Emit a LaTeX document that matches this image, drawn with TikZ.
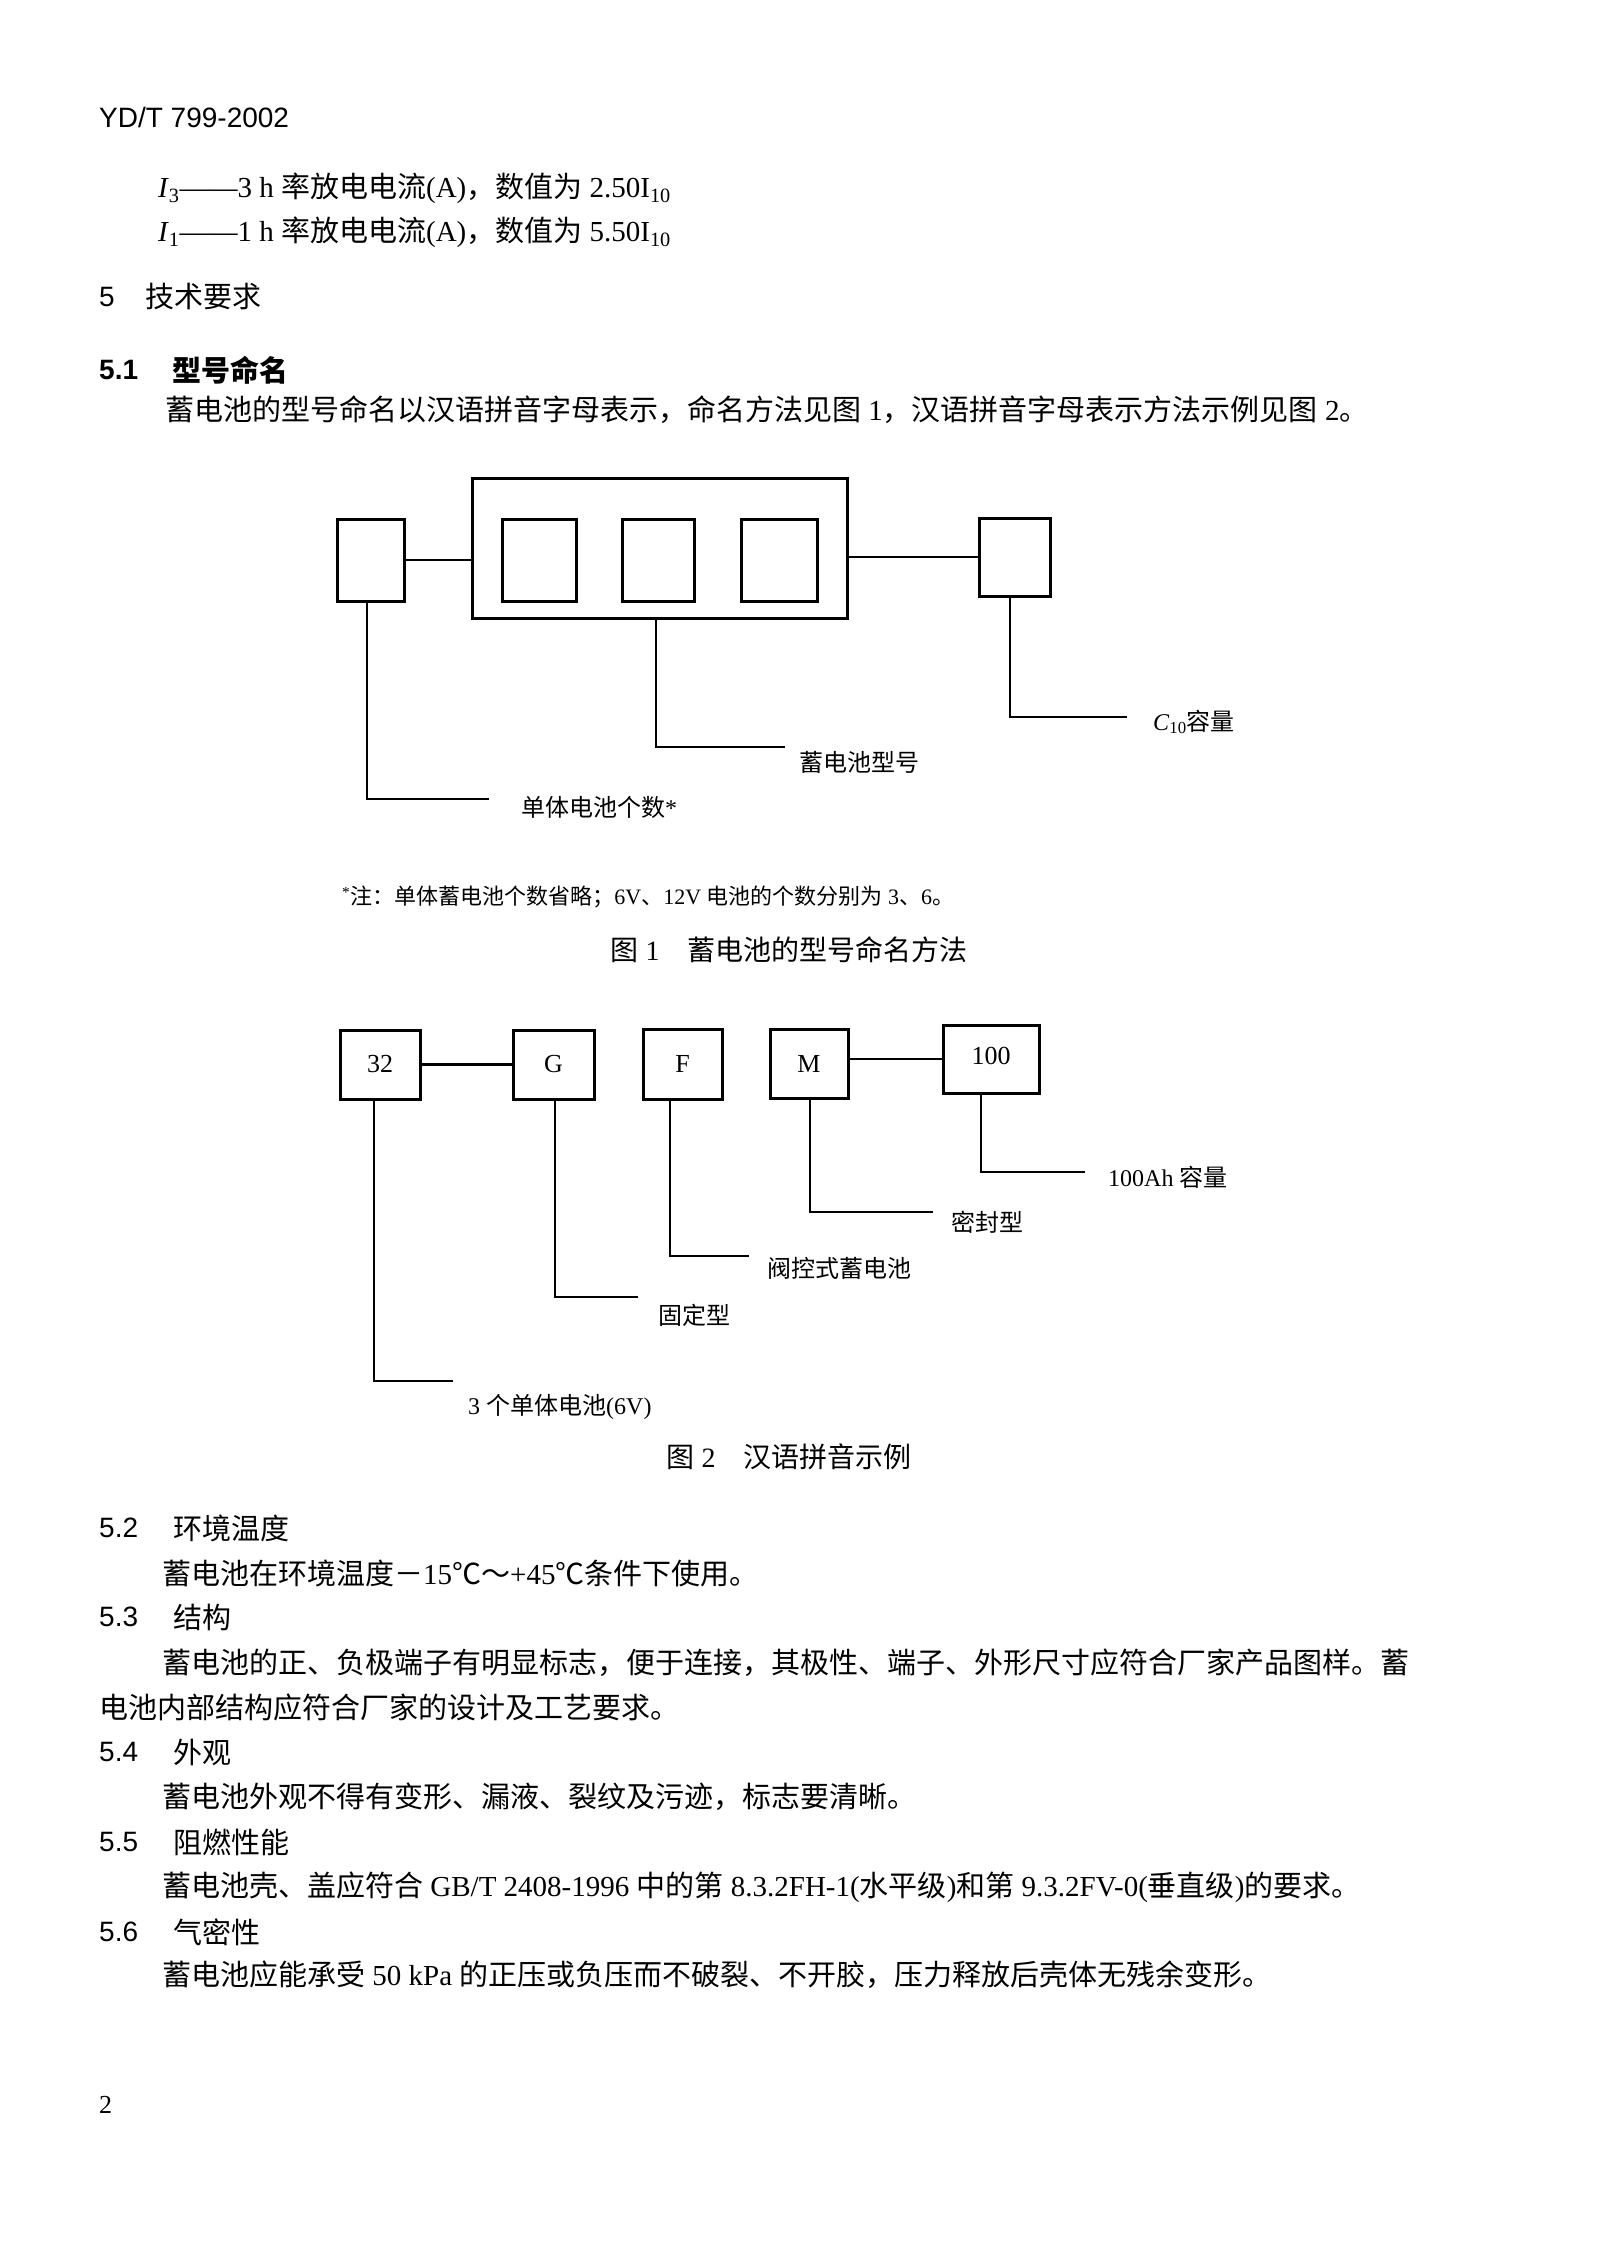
\documentclass[tikz,border=0pt]{standalone}
\usepackage{fontspec}
\setmainfont{Liberation Serif}
\newfontfamily\cjk{Noto Sans CJK SC}
\newfontfamily\hd{Liberation Sans}
\newcommand\zh[1]{{\cjk #1}}
\begin{document}
\begin{tikzpicture}[x=1pt,y=-1pt,
  tx/.style={anchor=west,inner sep=0pt,font=\fontsize{29}{34}\selectfont},
  hx/.style={anchor=west,inner sep=0pt,font=\hd\fontsize{28}{34}\selectfont},
  lb/.style={anchor=west,inner sep=0pt,font=\fontsize{24}{28}\selectfont},
  figcap/.style={anchor=center,inner sep=0pt,font=\fontsize{28}{32}\selectfont},
  bx/.style={draw,line width=3pt,inner sep=0pt},
  ln/.style={line width=2.6pt}]
\useasboundingbox (0,0) rectangle (1601,2244);
\fill[white] (0,0) rectangle (1601,2244);
% header text
\node[hx] (hd) at (99,117) {YD/T 799-2002};
\node[tx] (l1) at (158,188) {\textit{I}\textsubscript{3}——3 h \zh{率放电电流}(A)\zh{，数值为} 2.50I\textsubscript{10}};
\node[tx] (l2) at (158,232) {\textit{I}\textsubscript{1}——1 h \zh{率放电电流}(A)\zh{，数值为} 5.50I\textsubscript{10}};
\node[hx] (s5) at (99,297) {5};
\node[tx] (s5t) at (145,297) {\zh{技术要求}};
\node[hx,font=\hd\bfseries\fontsize{28}{34}\selectfont] (s51) at (99,370) {5.1};
\node[tx,font=\cjk\bfseries\fontsize{29}{34}\selectfont] (s51t) at (172,370) {型号命名};
\node[tx] (b1) at (165,410) {\zh{蓄电池的型号命名以汉语拼音字母表示，命名方法见图} 1\zh{，汉语拼音字母表示方法示例见图} 2\zh{。}};
% figure 1
\node[bx,minimum width=67pt,minimum height=82pt] (a) at (370.5,560) {};
\node[bx,minimum width=375pt,minimum height=140pt] (o) at (659.5,548) {};
\node[bx,minimum width=74pt,minimum height=82pt] (i1) at (539,560) {};
\node[bx,minimum width=72pt,minimum height=82pt] (i2) at (658,560) {};
\node[bx,minimum width=76pt,minimum height=82pt] (i3) at (779,560) {};
\node[bx,minimum width=71pt,minimum height=78pt] (r) at (1014.5,557) {};
\draw[ln] (a.east) -- (o.west |- a.east);
\draw[ln] (o.east |- r.west) -- (r.west);
\coordinate (c1) at (367,799); \coordinate (c1e) at (489,799);
\coordinate (c2) at (656,747); \coordinate (c2e) at (785,747);
\coordinate (c3) at (1010,717); \coordinate (c3e) at (1127,717);
\draw[ln] (a.south -| c1) -- (c1) -- (c1e);
\draw[ln] (o.south -| c2) -- (c2) -- (c2e);
\draw[ln] (r.south -| c3) -- (c3) -- (c3e);
\node[lb] (t1) at (521,807) {\zh{单体电池个数}*};
\node[lb] (t2) at (799,762) {\zh{蓄电池型号}};
\node[lb] (t3) at (1153,722) {\textit{C}\textsubscript{10}\zh{容量}};
\node[lb,font=\fontsize{22}{26}\selectfont] (nt) at (342,897) {\textsuperscript{*}\zh{注：单体蓄电池个数省略；}6V\zh{、}12V \zh{电池的个数分别为} 3\zh{、}6\zh{。}};
\node[figcap] (cp1) at (789,950) {\zh{图} 1\quad\zh{蓄电池的型号命名方法}};
% figure 2
\node[bx,minimum width=80pt,minimum height=69pt,font=\fontsize{26}{30}\selectfont] (n32) at (380,1064.5) {32};
\node[bx,minimum width=81pt,minimum height=69pt,font=\fontsize{26}{30}\selectfont] (nG) at (553.5,1064.5) {G};
\node[bx,minimum width=79pt,minimum height=70pt,font=\fontsize{26}{30}\selectfont] (nF) at (682.5,1064) {F};
\node[bx,minimum width=78pt,minimum height=69pt,font=\fontsize{26}{30}\selectfont] (nM) at (809,1063.5) {M};
\node[bx,minimum width=96pt,minimum height=68pt,font=\fontsize{26}{30}\selectfont] (n100) at (991,1059) {\raisebox{6pt}{100}};
\draw[ln] (n32.east) -- (nG.west |- n32.east);
\draw[ln] (nM.east |- n100.west) -- (n100.west);
\coordinate (d1) at (374,1381); \coordinate (d1e) at (453,1381);
\coordinate (d2) at (555,1297); \coordinate (d2e) at (638,1297);
\coordinate (d3) at (670,1256); \coordinate (d3e) at (749,1256);
\coordinate (d4) at (810,1212); \coordinate (d4e) at (933,1212);
\coordinate (d5) at (981,1172); \coordinate (d5e) at (1085,1172);
\draw[ln] (n32.south -| d1) -- (d1) -- (d1e);
\draw[ln] (nG.south -| d2) -- (d2) -- (d2e);
\draw[ln] (nF.south -| d3) -- (d3) -- (d3e);
\draw[ln] (nM.south -| d4) -- (d4) -- (d4e);
\draw[ln] (n100.south -| d5) -- (d5) -- (d5e);
\node[lb] (u1) at (468,1407) {3 \zh{个单体电池}(6V)};
\node[lb] (u2) at (658,1315) {\zh{固定型}};
\node[lb] (u3) at (767,1268) {\zh{阀控式蓄电池}};
\node[lb] (u4) at (951,1222) {\zh{密封型}};
\node[lb] (u5) at (1108,1177) {100Ah \zh{容量}};
\node[figcap] (cp2) at (789,1457) {\zh{图} 2\quad\zh{汉语拼音示例}};
% sections
\node[hx] (s52) at (99,1528) {5.2};
\node[tx] (s52t) at (173,1528) {\zh{环境温度}};
\node[tx] (b52) at (162,1573) {\zh{蓄电池在环境温度－}15\zh{℃～}+45\zh{℃条件下使用。}};
\node[hx] (s53) at (99,1617) {5.3};
\node[tx] (s53t) at (173,1617) {\zh{结构}};
\node[tx] (b53) at (162,1663) {\zh{蓄电池的正、负极端子有明显标志，便于连接，其极性、端子、外形尺寸应符合厂家产品图样。蓄}};
\node[tx] (b53b) at (99,1707) {\zh{电池内部结构应符合厂家的设计及工艺要求。}};
\node[hx] (s54) at (99,1752) {5.4};
\node[tx] (s54t) at (173,1752) {\zh{外观}};
\node[tx] (b54) at (162,1797) {\zh{蓄电池外观不得有变形、漏液、裂纹及污迹，标志要清晰。}};
\node[hx] (s55) at (99,1842) {5.5};
\node[tx] (s55t) at (173,1842) {\zh{阻燃性能}};
\node[tx] (b55) at (162,1887) {\zh{蓄电池壳、盖应符合} GB/T 2408-1996 \zh{中的第} 8.3.2FH-1(\zh{水平级})\zh{和第} 9.3.2FV-0(\zh{垂直级})\zh{的要求。}};
\node[hx] (s56) at (99,1932) {5.6};
\node[tx] (s56t) at (173,1932) {\zh{气密性}};
\node[tx] (b56) at (162,1975) {\zh{蓄电池应能承受} 50 kPa \zh{的正压或负压而不破裂、不开胶，压力释放后壳体无残余变形。}};
\node[tx,font=\fontsize{26}{30}\selectfont] (pg) at (99,2105) {2};
\end{tikzpicture}
\end{document}
